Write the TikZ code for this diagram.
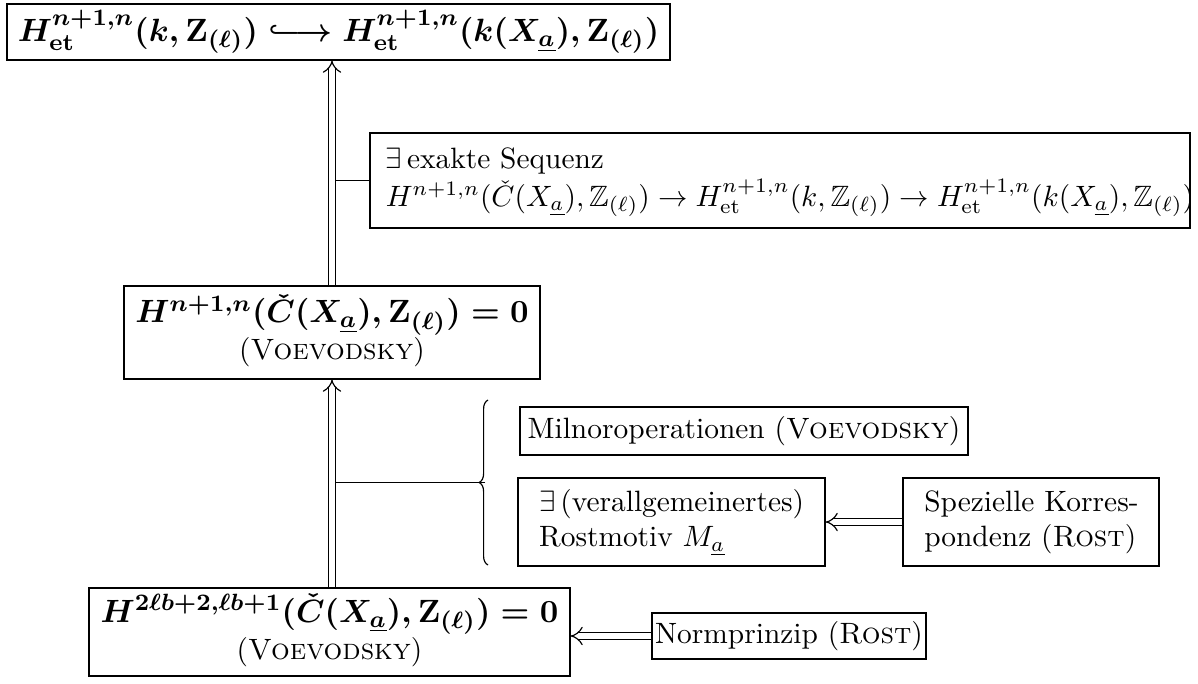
\documentclass[tikz,border=0pt]{standalone}
\usepackage{amsmath,amssymb}
\usetikzlibrary{arrows.meta,decorations.pathreplacing}
\newcommand{\longhook}{\mathrel{\lhook\joinrel\relbar\joinrel\rightarrow}}
\newcommand{\Zb}{\mathbf{Z}_{(\ell)}}
\newcommand{\Zbb}{\mathbb{Z}_{(\ell)}}
\newcommand{\Xa}{X_{\underline{a}}}
\newcommand{\bt}{\fontsize{10.95}{13.6}\selectfont\boldmath}
\newsavebox{\tTop}\newsavebox{\tSeq}\newsavebox{\tMid}\newsavebox{\tMil}
\newsavebox{\tRost}\newsavebox{\tSpez}\newsavebox{\tBot}\newsavebox{\tNorm}
\begin{document}
\sbox{\tTop}{\bt $H^{n+1,n}_{\mathrm{et}}(k,\Zb) \longhook H^{n+1,n}_{\mathrm{et}}(k(\Xa),\Zb)$}%
\sbox{\tSeq}{\begin{tabular}{@{}l@{}}$\exists$\,exakte Sequenz\\ $H^{n+1,n}(\check{C}(\Xa),\Zbb) \to H^{n+1,n}_{\mathrm{et}}(k,\Zbb) \to H^{n+1,n}_{\mathrm{et}}(k(\Xa),\Zbb)$\end{tabular}}%
\sbox{\tMid}{\begin{tabular}{@{}c@{}}{\bt $H^{n+1,n}(\check{C}(\Xa),\Zb)=0$}\\(\textsc{Voevodsky})\end{tabular}}%
\sbox{\tMil}{Milnoroperationen (\textsc{Voevodsky})}%
\sbox{\tRost}{\begin{tabular}{@{}l@{}}$\exists$\,(verallgemeinertes)\\Rostmotiv $M_{\underline{a}}$\end{tabular}}%
\sbox{\tSpez}{\begin{tabular}{@{}l@{}}Spezielle Korres-\\pondenz (\textsc{Rost})\end{tabular}}%
\sbox{\tBot}{\begin{tabular}{@{}c@{}}{\bt $H^{2\ell b+2,\ell b+1}(\check{C}(\Xa),\Zb)=0$}\\(\textsc{Voevodsky})\end{tabular}}%
\sbox{\tNorm}{Normprinzip (\textsc{Rost})}%
\begin{tikzpicture}[x=0.34pt,y=-0.34pt]
\tikzset{
  bx/.style={draw, line width=0.4pt, inner sep=0pt},
  txt/.style={inner sep=0pt, anchor=west},
  dblarr/.style={double, double distance=1.8pt, line width=0.4pt, -{Implies}},
  cn/.style={line width=0.4pt}}
\useasboundingbox (0,0) rectangle (1198,683);
\node[bx, minimum width=225.4pt, minimum height=19pt] (topbox) at (338.5,32) {\usebox{\tTop}};
\node[bx, minimum width=278.8pt, minimum height=32.3pt] (seq) at (780,180.5) {};
\node[txt] (seqtext) at ([xshift=5.4pt]seq.west) {\usebox{\tSeq}};
\node[bx, minimum width=141.4pt, minimum height=31.6pt] (mid) at (332,332.5) {\usebox{\tMid}};
\node[bx, minimum width=152.3pt, minimum height=16.3pt] (milnor) at (744,431) {\usebox{\tMil}};
\node[bx, minimum width=104.4pt, minimum height=29.9pt] (rost) at (671.5,522) {};
\node[txt] (rosttext) at ([xshift=7.2pt]rost.west) {\usebox{\tRost}};
\node[bx, minimum width=87pt, minimum height=29.9pt] (spez) at (1031,522) {};
\node[txt] (speztext) at ([xshift=7.2pt]spez.west) {\usebox{\tSpez}};
\node[bx, minimum width=163.5pt, minimum height=29.9pt] (bot) at (329.5,632) {\usebox{\tBot}};
\node[bx, minimum width=93.2pt, minimum height=15.6pt] (norm) at (789,636) {\usebox{\tNorm}};
\draw[cn, decorate, decoration={brace, amplitude=3pt}] (488,565) -- (488,400);
\coordinate (tip) at (485,482.5);
\draw[cn] (seq.west) -- (seq.west -| mid.north);
\draw[cn] (tip) -- (tip -| mid.south);
\draw[dblarr] (mid.north) -- (topbox.south -| mid.north);
\draw[dblarr] (bot.north -| mid.south) -- (mid.south);
\draw[dblarr] (spez.west) -- (rost.east);
\draw[dblarr] (norm.west) -- (norm.west -| bot.east);
\end{tikzpicture}
\end{document}
